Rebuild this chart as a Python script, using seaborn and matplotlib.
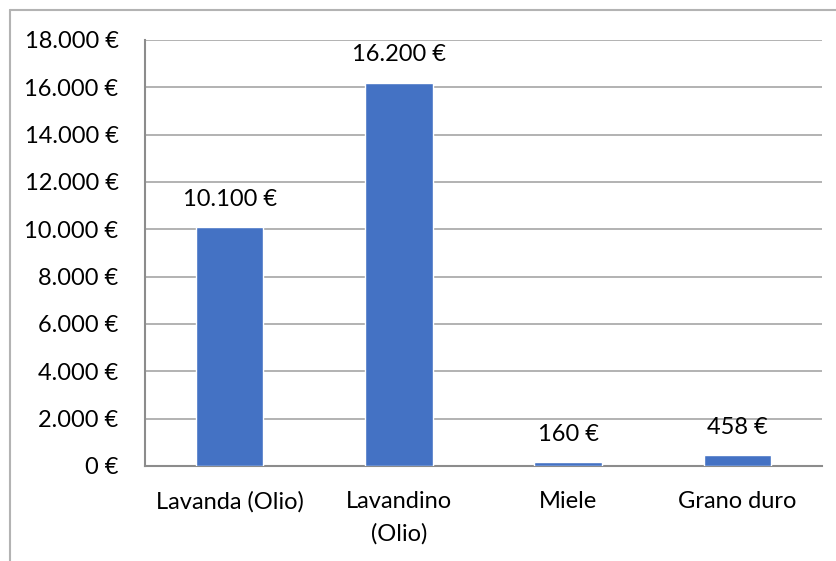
import matplotlib
matplotlib.use('Agg')
import matplotlib.pyplot as plt
import matplotlib.ticker as mticker
from matplotlib.lines import Line2D
import pandas as pd
import seaborn as sns

# Chart data
categories = ['Lavanda (Olio)', 'Lavandino\n(Olio)', 'Miele', 'Grano duro']
values = [10100, 16200, 160, 458]
value_labels = ['10.100 €', '16.200 €', '160 €', '458 €']
y_ticks = list(range(0, 18001, 2000))

df = pd.DataFrame({'categoria': categories, 'valore': values})

sns.set_style('white')
plt.rcParams['font.family'] = ['Lato', 'DejaVu Sans']
plt.rcParams['text.color'] = 'black'

FS = 17

fig = plt.figure(figsize=(8.37, 5.61), dpi=100)
ax = fig.add_axes([145 / 837, 1 - 466 / 561, (822 - 145) / 837, (466 - 40) / 561])

sns.barplot(data=df, x='categoria', y='valore', color='#4472C4', saturation=1,
            width=0.40, ax=ax, zorder=3)

ax.set_ylim(0, 18000)
ax.set_xlim(-0.5, len(categories) - 0.5)
ax.set_yticks(y_ticks)
ax.yaxis.set_major_formatter(mticker.FuncFormatter(
    lambda v, p: '{:,.0f} €'.format(v).replace(',', '.')))
ax.set_xlabel('')
ax.set_ylabel('')

# gridlines
ax.grid(axis='y', color='#a6a6a6', linewidth=1.2, zorder=0)
ax.set_axisbelow(True)

for side in ['top', 'right']:
    ax.spines[side].set_visible(False)
for side in ['left', 'bottom']:
    ax.spines[side].set_color('#8c8c8c')
    ax.spines[side].set_linewidth(1.5)

# x ticks at category boundaries, no tick marks at labels
ax.set_xticks(range(len(categories)))
ax.set_xticklabels(categories, linespacing=1.65)
ax.tick_params(axis='x', length=0, labelsize=FS, pad=18, labelcolor='black')
ax.set_xticks([i - 0.5 for i in range(len(categories) + 1)], minor=True)
ax.tick_params(axis='x', which='minor', length=7, width=1.2, color='#8c8c8c', direction='out')
ax.tick_params(axis='y', length=6, width=1.2, color='#a6a6a6', labelsize=FS, pad=13,
               labelcolor='black')

# data labels
for i, (v, lab) in enumerate(zip(values, value_labels)):
    ax.annotate(lab, xy=(i, v), xytext=(0, 20), textcoords='offset points',
                ha='center', va='center', fontsize=FS, color='black')

# outer chart frame (only top and left edges visible)
fig.add_artist(Line2D([9.5 / 837, 1], [1 - 9.5 / 561, 1 - 9.5 / 561],
                      transform=fig.transFigure, color='#b3b3b3', linewidth=1.5))
fig.add_artist(Line2D([9.5 / 837, 9.5 / 837], [0, 1 - 9.5 / 561],
                      transform=fig.transFigure, color='#b3b3b3', linewidth=1.5))

fig.savefig('out.png', dpi=100)
